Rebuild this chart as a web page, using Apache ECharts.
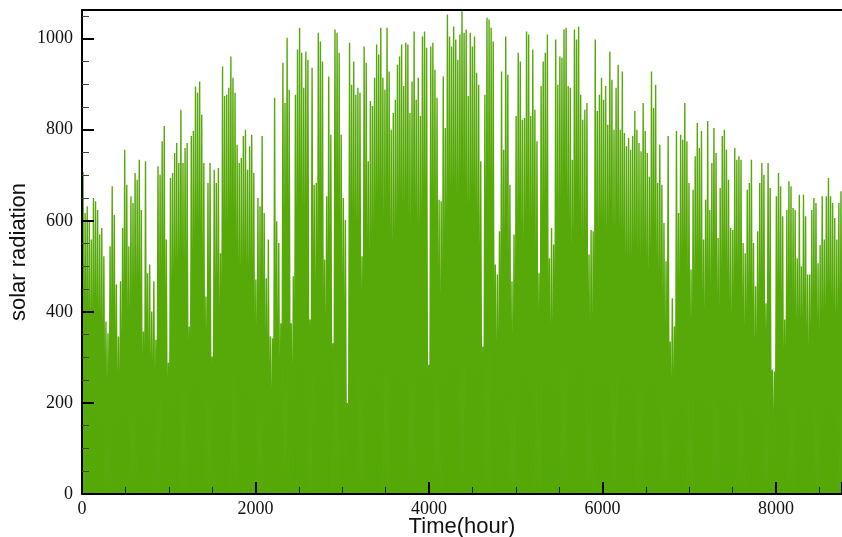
<!DOCTYPE html>
<html>
<head>
<meta charset="utf-8">
<script src="https://cdn.jsdelivr.net/npm/echarts@6/dist/echarts.min.js"></script>
<style>
  html, body { margin: 0; padding: 0; background: #fff; }
  #chart { width: 842px; height: 537px; }
</style>
</head>
<body>
<div id="chart"></div>
<script>
// daily peak of solar radiation (365 days, W/m2)
var peaksQ1 = [707, 617, 632, 599, 559, 650, 643, 624, 570, 584, 522, 379, 353, 544, 676, 613, 460, 346, 467, 584,
  756, 679, 544, 654, 639, 705, 690, 734, 624, 357, 731, 485, 504, 401, 467, 339, 720, 701, 775, 808,
  559, 288, 694, 705, 749, 771, 727, 844, 727, 760, 771, 368, 786, 797, 895, 881, 906, 833, 727, 434,
  683, 727, 302, 712, 683, 716, 529, 939, 874, 877, 892, 961, 914]
var peaksQ2 = [881, 767, 727, 738, 786, 800, 712, 764, 789, 705, 471, 650, 632, 786, 617, 474, 559, 346, 342, 870,
  599, 551, 375, 947, 859, 1002, 888, 375, 478, 877, 976, 1024, 969, 892, 972, 954, 383, 936, 679, 683,
  1013, 994, 950, 515, 654, 917, 789, 331, 1020, 1013, 969, 789, 650, 602, 200, 991, 899, 950, 877, 892,
  881, 522, 983, 947, 731, 863, 852, 914, 987, 965, 1024, 914, 888]
var peaksQ3 = [1024, 928, 800, 837, 866, 943, 961, 987, 896, 991, 987, 837, 906, 1016, 866, 914, 830, 1005, 1016, 980,
  284, 983, 991, 932, 870, 646, 643, 917, 804, 1053, 1005, 983, 1027, 998, 954, 1009, 1060, 1013, 1020, 874,
  1013, 983, 1005, 925, 899, 731, 324, 877, 1046, 1042, 1024, 994, 504, 482, 577, 928, 756, 1005, 921, 679,
  467, 570, 830, 969, 950, 822, 826, 1016, 1009, 830, 976, 844, 775]
var peaksQ4 = [485, 896, 950, 969, 1009, 518, 584, 548, 998, 899, 961, 958, 1020, 1024, 896, 892, 734, 1020, 998, 1027,
  877, 822, 844, 859, 526, 580, 577, 998, 841, 877, 914, 866, 896, 811, 972, 910, 800, 892, 943, 800,
  928, 793, 764, 782, 756, 786, 841, 800, 771, 753, 859, 797, 749, 697, 928, 848, 899, 683, 767, 679,
  595, 511, 786, 335, 430, 368, 797, 617, 789, 778, 859, 775, 683]
var peaksQ5 = [493, 668, 742, 815, 760, 797, 559, 646, 819, 624, 727, 804, 749, 562, 672, 786, 800, 756, 690, 584,
  580, 760, 734, 742, 734, 551, 529, 668, 683, 734, 551, 456, 577, 683, 727, 701, 419, 727, 672, 273,
  269, 654, 705, 676, 610, 383, 624, 687, 676, 628, 624, 518, 657, 500, 657, 610, 482, 482, 624, 650,
  639, 507, 547, 654, 559, 654, 694, 654, 639, 606, 559, 639, 665]

var xTickStep = 2000
var yTickStep = 200

var peaks = [].concat(peaksQ1, peaksQ2, peaksQ3, peaksQ4, peaksQ5)

// hourly series: radiation is 0 at midnight, daily peak at noon
var hourly = []
for (var d = 0; d < peaks.length; d++) {
  hourly.push([d * 24, 0])
  hourly.push([d * 24 + 12, peaks[d]])
}
hourly.push([peaks.length * 24, 0])

var labelFont = {
  color: '#111',
  fontFamily: 'Liberation Serif',
  fontSize: 18
}

var myChart = echarts.init(document.getElementById('chart'), null, {renderer: 'canvas'})

var option = {
  animation: false,
  grid: {
    left: 82,
    right: 0,
    top: 10,
    bottom: 43,
    outerBoundsMode: 'none'
  },
  xAxis: [{
    type: 'value',
    min: 0,
    max: 8760,
    interval: xTickStep,
    z: 5,
    name: 'Time(hour)',
    nameLocation: 'middle',
    nameGap: 22,
    nameMoveOverlap: false,
    nameTextStyle: {
      fontFamily: 'Liberation Sans',
      fontSize: 22,
      color: '#111'
    },
    axisLine: { // 底部轴线
      show: true,
      lineStyle: {color: '#000', width: 2}
    },
    axisTick: {
      show: true,
      inside: true,
      length: 12,
      lineStyle: {color: '#000', width: 2}
    },
    minorTick: {
      show: true,
      splitNumber: 4,
      length: 7,
      lineStyle: {color: '#222', width: 1}
    },
    axisLabel: Object.assign({
      margin: 6,
      formatter: function (v) {
        return v % xTickStep === 0 ? String(v) : ''
      }
    }, labelFont),
    splitLine: {show: false}
  }, {
    // 顶部边框
    type: 'value',
    position: 'top',
    min: 0,
    max: 8760,
    z: 5,
    axisLine: {show: true, lineStyle: {color: '#000', width: 2}},
    axisTick: {show: false},
    axisLabel: {show: false},
    splitLine: {show: false}
  }],
  yAxis: {
    type: 'value',
    min: 0,
    max: 1063,
    interval: yTickStep,
    z: 5,
    name: 'solar radiation',
    nameLocation: 'middle',
    nameGap: 52,
    nameMoveOverlap: false,
    nameTextStyle: {
      fontFamily: 'Liberation Sans',
      fontSize: 22,
      color: '#111'
    },
    axisLine: {
      show: true,
      lineStyle: {color: '#000', width: 2}
    },
    axisTick: {
      show: true,
      inside: true,
      length: 12,
      lineStyle: {color: '#000', width: 2}
    },
    minorTick: {
      show: true,
      splitNumber: 4,
      length: 7,
      lineStyle: {color: '#444', width: 1}
    },
    axisLabel: Object.assign({
      margin: 9,
      formatter: function (v) {
        return v % yTickStep === 0 ? String(v) : ''
      }
    }, labelFont),
    splitLine: {show: false}
  },
  series: [{
    type: 'line',
    data: hourly,
    showSymbol: false,
    symbol: 'none',
    sampling: null,
    z: 2,
    lineStyle: {color: '#57a90a', width: 1.4},
    areaStyle: {color: '#52a800', opacity: 1}
  }]
}

myChart.setOption(option)
window.addEventListener('resize', function () {
  myChart.resize()
})
</script>
</body>
</html>
